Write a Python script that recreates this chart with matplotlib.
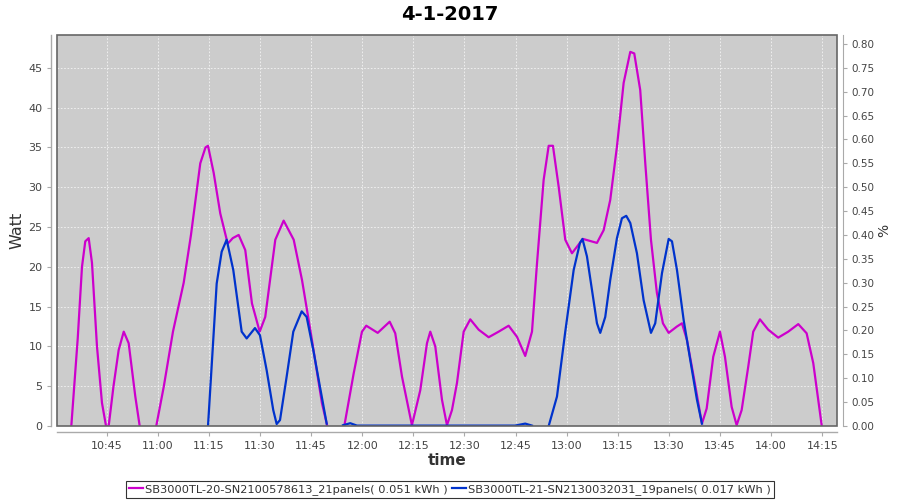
import numpy as np
import pandas as pd
import matplotlib
matplotlib.use("Agg")
import matplotlib.pyplot as plt
import matplotlib.dates as mdates
from matplotlib.patches import Rectangle

title = "4-1-2017"
series1_name = "SB3000TL-20-SN2100578613_21panels( 0.051 kWh )"
series2_name = "SB3000TL-21-SN2130032031_19panels( 0.017 kWh )"

s1_times = ["10:34:37", "10:36:30", "10:37:45", "10:38:43", "10:39:43", "10:40:41", "10:42:09", "10:43:37",
            "10:44:48", "10:45:35", "10:47:00", "10:48:31", "10:50:00", "10:51:27", "10:53:24", "10:54:41",
            "10:57:00",
            "10:59:33", "11:01:44", "11:04:27", "11:07:36", "11:09:44", "11:12:28", "11:14:00", "11:14:44",
            "11:16:24", "11:18:20", "11:20:31", "11:22:00", "11:23:44", "11:25:40", "11:27:38", "11:29:54",
            "11:31:32", "11:34:29", "11:36:56", "11:39:53", "11:42:19", "11:44:45", "11:48:11",
            "11:49:44",
            "11:52:00",
            "11:54:44", "11:57:29", "11:59:55", "12:01:11", "12:04:32", "12:08:03", "12:09:41",
            "12:11:40", "12:14:35", "12:17:02", "12:19:00", "12:19:58", "12:21:26", "12:23:24",
            "12:24:52", "12:26:20", "12:27:48", "12:29:46", "12:31:42", "12:34:10", "12:37:06",
            "12:40:02", "12:42:58", "12:45:25", "12:47:50", "12:49:49", "12:51:17", "12:53:14",
            "12:54:43", "12:55:58", "12:57:38", "12:59:35", "13:01:33", "13:04:46", "13:08:53",
            "13:10:51", "13:12:47", "13:14:45", "13:16:43", "13:18:40", "13:19:50", "13:21:35",
            "13:23:04", "13:24:44", "13:26:29", "13:28:15", "13:29:56", "13:32:22", "13:33:50",
            "13:35:18", "13:37:16", "13:39:42", "13:41:05", "13:43:01", "13:44:59", "13:46:27",
            "13:48:25", "13:49:53", "13:51:21", "13:53:17", "13:54:45", "13:56:43", "13:59:09",
            "14:02:05", "14:05:01", "14:07:58", "14:10:25", "14:12:22", "14:14:50"]
s1_watt = [0.0, 11.0, 20.0, 23.2, 23.6, 20.5, 10.0, 2.9,
           0.0, 0.0, 5.0, 9.55, 11.85, 10.4, 3.7, 0.0,
           np.nan,
           0.0, 4.9, 11.85, 18.0, 24.0, 33.0, 35.0, 35.2,
           31.8, 26.7, 22.9, 23.6, 24.0, 22.1, 15.4, 11.85,
           13.7, 23.4, 25.8, 23.4, 18.35, 12.1, 2.85,
           0.0,
           np.nan,
           0.0, 6.6, 11.85, 12.6, 11.7, 13.1, 11.65,
           6.2, 0.1, 4.5, 10.4, 11.85, 10.0, 3.3,
           0.1, 2.0, 5.4, 11.85, 13.4, 12.1, 11.15,
           11.85, 12.6, 11.2, 8.8, 11.85, 20.4, 30.9,
           35.2, 35.2, 30.1, 23.4, 21.7, 23.5, 23.0,
           24.6, 28.4, 35.1, 43.1, 47.0, 46.8, 42.2,
           33.0, 23.4, 16.7, 12.9, 11.7, 12.5, 12.9,
           10.8, 6.2, 0.3, 2.2, 8.7, 11.85, 8.7,
           2.4, 0.1, 2.0, 7.45, 11.85, 13.4, 12.1,
           11.1, 11.85, 12.8, 11.65, 7.9, 0.1]

s2_times = ["11:14:44", "11:17:17", "11:18:45", "11:20:13", "11:22:09", "11:24:37", "11:26:05",
            "11:28:31", "11:29:59", "11:31:57", "11:33:53", "11:34:53", "11:35:52", "11:37:49",
            "11:39:46", "11:42:14", "11:43:41", "11:45:38", "11:47:36", "11:49:34",
            "11:52:00",
            "11:54:21", "11:56:29", "11:58:27", "12:44:49", "12:47:50", "12:49:49",
            "12:52:00",
            "12:54:43", "12:57:09", "12:59:35", "13:02:03", "13:03:54", "13:04:38", "13:05:57",
            "13:07:25", "13:08:53", "13:09:51", "13:11:19", "13:12:47", "13:14:45", "13:16:13",
            "13:17:29", "13:18:40", "13:20:37", "13:22:35", "13:24:44", "13:25:59", "13:27:58",
            "13:29:56", "13:30:54", "13:32:22", "13:34:20", "13:36:16", "13:38:14", "13:39:42"]
s2_watt = [0.0, 17.9, 21.9, 23.4, 19.6, 11.85, 11.0,
           12.3, 11.4, 7.0, 2.0, 0.25, 0.75, 6.2,
           11.85, 14.4, 13.7, 9.55, 4.9, 0.3,
           np.nan,
           0.1, 0.35, 0.05, 0.05, 0.3, 0.05,
           np.nan,
           0.0, 3.7, 11.85, 19.6, 23.0, 23.5, 21.3,
           17.1, 12.9, 11.7, 13.7, 18.35, 23.6, 26.1,
           26.4, 25.5, 21.7, 15.8, 11.7, 12.9, 19.2,
           23.5, 23.2, 19.6, 13.3, 8.3, 3.3, 0.3]

x_range = ["10:30:25", "14:19:20"]
left_ticks = [0, 5, 10, 15, 20, 25, 30, 35, 40, 45]
right_ticks = [0.00, 0.05, 0.10, 0.15, 0.20, 0.25, 0.30, 0.35, 0.40, 0.45,
               0.50, 0.55, 0.60, 0.65, 0.70, 0.75, 0.80]
left_max = 49.08
right_max = 0.818

day = "2017-04-01 "
def to_dt(lst):
    return pd.to_datetime([day + t for t in lst])

magenta = "#CC00CC"
blue = "#0033CC"
tick_col = "#444444"

fig = plt.figure(figsize=(9, 5), dpi=100)
ax = fig.add_axes([57 / 900, 74 / 500, 780 / 900, 390.7 / 500])
ax.set_facecolor("#CCCCCC")

ax.plot(to_dt(s1_times), s1_watt, color=magenta, lw=1.6, solid_joinstyle="round", zorder=3)
ax.plot(to_dt(s2_times), s2_watt, color=blue, lw=1.6, solid_joinstyle="round", zorder=3)

xr = to_dt(x_range)
ax.set_xlim(xr[0], xr[1])
ax.set_ylim(0, left_max)
ax.set_yticks(left_ticks)
ax.xaxis.set_major_locator(mdates.MinuteLocator(byminute=[0, 15, 30, 45]))
ax.xaxis.set_major_formatter(mdates.DateFormatter("%H:%M"))

ax.grid(True, color="#F4F4F4", linestyle=(0, (2, 2)), linewidth=0.6)
ax.set_axisbelow(True)

for sp in ["top", "right"]:
    ax.spines[sp].set_visible(False)
for sp in ["left", "bottom"]:
    ax.spines[sp].set_position(("outward", 4))
    ax.spines[sp].set_color("#AAAAAA")
    ax.spines[sp].set_linewidth(1.0)

ax.tick_params(axis="both", colors="#AAAAAA", labelcolor=tick_col, labelsize=8, length=3, width=0.8)
ax.set_ylabel("Watt", fontsize=11.5, color="#333333", labelpad=3)
ax.set_xlabel("time", fontsize=11, fontweight="bold", color="#333333", labelpad=2)

ax.add_patch(Rectangle((0, 0), 1, 1, transform=ax.transAxes, fill=False,
                       edgecolor="#666666", lw=1.2, zorder=5, clip_on=False))

ax2 = ax.twinx()
ax2.set_ylim(0, right_max)
ax2.set_yticks(right_ticks)
ax2.set_yticklabels([f"{v:.2f}" for v in right_ticks])
for sp in ["top", "left", "bottom"]:
    ax2.spines[sp].set_visible(False)
ax2.spines["right"].set_position(("outward", 4))
ax2.spines["right"].set_color("#AAAAAA")
ax2.tick_params(axis="y", colors="#AAAAAA", labelcolor=tick_col, labelsize=7.5, length=3, width=0.8)
ax2.set_ylabel("%", fontsize=10, color="#333333", labelpad=2)

fig.text(0.5, 0.99, title, ha="center", va="top", fontsize=14, fontweight="bold", color="black")

h1, = ax.plot([], [], color=magenta, lw=1.6)
h2, = ax.plot([], [], color=blue, lw=1.6)
leg = fig.legend([h1, h2], [series1_name, series2_name], loc="lower center",
                 bbox_to_anchor=(0.5, 0.004), ncol=2, fontsize=8.2, frameon=True,
                 fancybox=False, edgecolor="black", handlelength=1.2, handletextpad=0.2,
                 columnspacing=0.4, borderpad=0.25, borderaxespad=0)
leg.get_frame().set_linewidth(0.8)
for t in leg.get_texts():
    t.set_color("#333333")

fig.savefig("out.png", dpi=100, facecolor="white")
